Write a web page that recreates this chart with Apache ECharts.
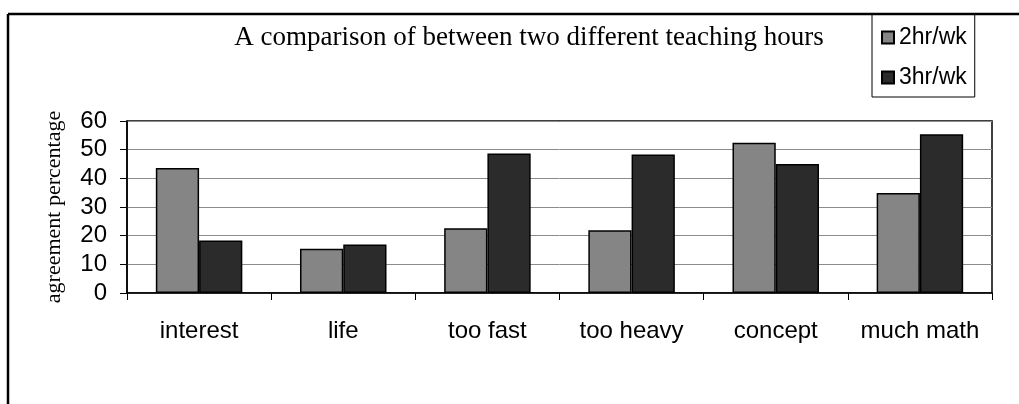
<!DOCTYPE html>
<html><head><meta charset="utf-8">
<script src="https://cdn.jsdelivr.net/npm/echarts@6/dist/echarts.min.js"></script>
<style>html,body{margin:0;padding:0;background:#fff}#c{width:1019px;height:404px}</style>
</head><body><div id="c"></div>
<script>
var categories = ['interest', 'life', 'too fast', 'too heavy', 'concept', 'much math'];
var hr2 = [43.6, 15.4, 22.6, 21.9, 52.4, 34.9];
var hr3 = [18.3, 16.9, 48.7, 48.3, 45.0, 55.4];
var seriesNames = ['2hr/wk', '3hr/wk'];
var titleText = 'A comparison of between two different teaching hours';
var yName = 'agreement percentage';

var chart = echarts.init(document.getElementById('c'), null, {renderer: 'canvas'});
chart.setOption({
  animation: false,
  backgroundColor: '#fff',
  title: {
    text: titleText, left: 529, top: 24, textAlign: 'center', padding: 0,
    textStyle: {fontFamily: 'Liberation Serif', fontWeight: 'normal', fontSize: 27, color: '#000'}
  },
  legend: {
    data: seriesNames, orient: 'vertical', left: 872, top: 14,
    itemWidth: 12, itemHeight: 12, itemGap: 17,
    padding: [12, 8, 8, 9], borderColor: '#000', borderWidth: 1,
    textStyle: {fontFamily: 'Liberation Sans', fontSize: 23, color: '#000'},
    icon: 'rect'
  },
  graphic: [
    {type: 'line', shape: {x1: 8, y1: 14, x2: 1019, y2: 14}, style: {stroke: '#000', lineWidth: 2.5}, z: 10},
    {type: 'line', shape: {x1: 8, y1: 14, x2: 8, y2: 404}, style: {stroke: '#000', lineWidth: 2.5}, z: 10}
  ],
  grid: {left: 127, top: 121, width: 865, height: 172, show: true, borderColor: '#000', borderWidth: 1.5, containLabel: false},
  xAxis: {
    type: 'category', data: categories,
    axisLine: {lineStyle: {color: '#000', width: 1.5}},
    axisTick: {show: true, interval: 0, length: 7, lineStyle: {color: '#000'}},
    axisLabel: {interval: 0, fontFamily: 'Liberation Sans', fontSize: 24, color: '#000', margin: 26}
  },
  yAxis: {
    type: 'value', min: 0, max: 60, interval: 10,
    name: yName, nameLocation: 'middle', nameRotate: 90, nameGap: 62,
    nameTextStyle: {fontFamily: 'Liberation Serif', fontSize: 22, color: '#000'},
    axisLine: {show: true, lineStyle: {color: '#000', width: 1.5}},
    axisTick: {show: true, length: 7, lineStyle: {color: '#000'}},
    axisLabel: {fontFamily: 'Liberation Sans', fontSize: 24, color: '#000', margin: 20},
    splitLine: {lineStyle: {color: '#8c8c8c', width: 1}}
  },
  series: [
    {name: seriesNames[0], type: 'bar', data: hr2, barGap: '0%', barCategoryGap: '40%',
     itemStyle: {color: '#858585', borderColor: '#000', borderWidth: 1.5}},
    {name: seriesNames[1], type: 'bar', data: hr3,
     itemStyle: {color: '#2b2b2b', borderColor: '#000', borderWidth: 1.5}}
  ]
});
</script></body></html>
